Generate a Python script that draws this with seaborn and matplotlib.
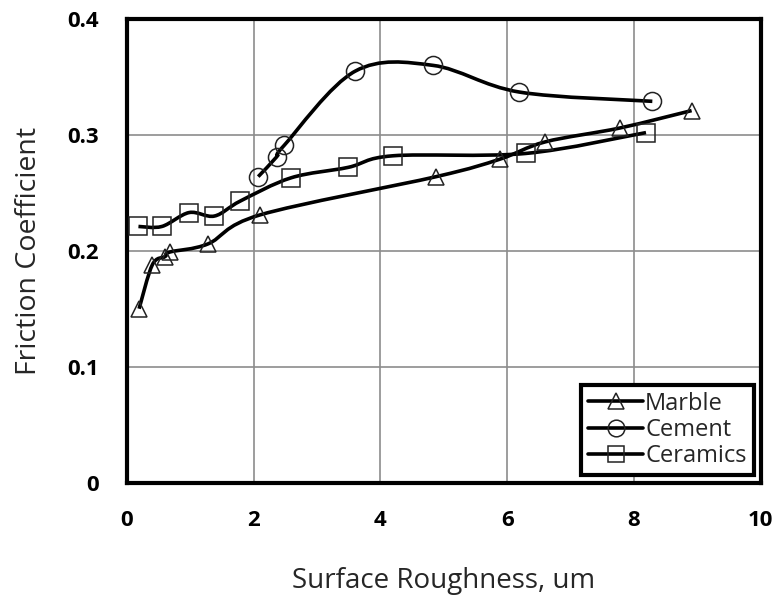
import numpy as np
import pandas as pd
import matplotlib
matplotlib.use("Agg")
import matplotlib.pyplot as plt
from matplotlib.path import Path
from matplotlib.patches import PathPatch
from matplotlib.lines import Line2D
import seaborn as sns

# values
marble_x = [0.19, 0.40, 0.60, 0.68, 1.28, 2.10, 4.88, 5.88, 6.60, 7.78, 8.91]
marble_y = [0.150, 0.188, 0.195, 0.199, 0.206, 0.231, 0.264, 0.279, 0.294, 0.306, 0.321]

cement_x = [2.07, 2.36, 2.48, 3.60, 4.83, 6.19, 8.29]
cement_y = [0.264, 0.281, 0.291, 0.355, 0.360, 0.337, 0.329]

ceramics_x = [0.18, 0.55, 0.98, 1.38, 1.79, 2.59, 3.49, 4.20, 6.29, 8.19]
ceramics_y = [0.221, 0.221, 0.233, 0.230, 0.243, 0.263, 0.272, 0.282, 0.284, 0.302]

series = [
    ("Marble", marble_x, marble_y, "^"),
    ("Cement", cement_x, cement_y, "o"),
    ("Ceramics", ceramics_x, ceramics_y, "s"),
]


def smooth_path(xs, ys, tension=1 / 6):
    # Excel-style smoothed line: cubic bezier segments through the points
    pts = np.column_stack([xs, ys])
    n = len(pts)
    verts = [pts[0]]
    codes = [Path.MOVETO]
    for i in range(n - 1):
        p0 = pts[i - 1] if i > 0 else pts[i]
        p1 = pts[i]
        p2 = pts[i + 1]
        p3 = pts[i + 2] if i + 2 < n else pts[i + 1]
        c1 = p1 + (p2 - p0) * tension
        c2 = p2 - (p3 - p1) * tension
        verts += [c1, c2, p2]
        codes += [Path.CURVE4] * 3
    return Path(verts, codes)


sns.set_style("whitegrid", {"grid.color": "#8c8c8c", "axes.edgecolor": "black"})
plt.rcParams["font.family"] = ["Open Sans", "DejaVu Sans"]

fig = plt.figure(figsize=(7.77, 5.95), dpi=100)
ax = fig.add_axes([0.1635, 0.189, 0.8155, 0.779])

for name, xs, ys, mk in series:
    ax.add_patch(PathPatch(smooth_path(xs, ys), facecolor="none",
                           edgecolor="black", lw=2.6, zorder=3))
    df = pd.DataFrame({"x": xs, "y": ys})
    sns.lineplot(data=df, x="x", y="y", ax=ax, sort=False, linestyle="",
                 marker=mk, markersize=13 if mk != "^" else 12,
                 markerfacecolor="none", markeredgecolor="#222222",
                 markeredgewidth=1.1, color="black", zorder=4)

ax.set_xlim(0, 10)
ax.set_ylim(0, 0.4)
ax.set_xticks([0, 2, 4, 6, 8, 10])
ax.set_yticks([0, 0.1, 0.2, 0.3, 0.4])
ax.set_xticklabels(["0", "2", "4", "6", "8", "10"])
ax.set_yticklabels(["0", "0.1", "0.2", "0.3", "0.4"])
ax.grid(True, color="#8c8c8c", lw=1.2)
ax.tick_params(axis="both", length=0, labelsize=16, colors="black")
ax.tick_params(axis="y", pad=20)
ax.tick_params(axis="x", pad=20)
for lab in ax.get_xticklabels() + ax.get_yticklabels():
    lab.set_fontweight("bold")
for sp in ax.spines.values():
    sp.set_linewidth(3)
    sp.set_color("black")

ax.set_xlabel("Surface Roughness, um", fontsize=20, labelpad=26)
ax.set_ylabel("Friction Coefficient", fontsize=20.5, labelpad=18)

handles = [Line2D([], [], color="black", lw=2.6, marker=mk, markersize=12,
                  markerfacecolor="none", markeredgecolor="#222222",
                  markeredgewidth=1.1, label=name)
           for name, _, _, mk in series]
leg = ax.legend(handles=handles, loc="lower right", fontsize=17,
                frameon=True, fancybox=False, handlelength=2.3,
                handletextpad=0.1, borderpad=0.3, labelspacing=0.1,
                borderaxespad=0.3)
leg.get_frame().set_edgecolor("black")
leg.get_frame().set_linewidth(3)
leg.get_frame().set_alpha(1)

fig.savefig("out.png", dpi=100)
